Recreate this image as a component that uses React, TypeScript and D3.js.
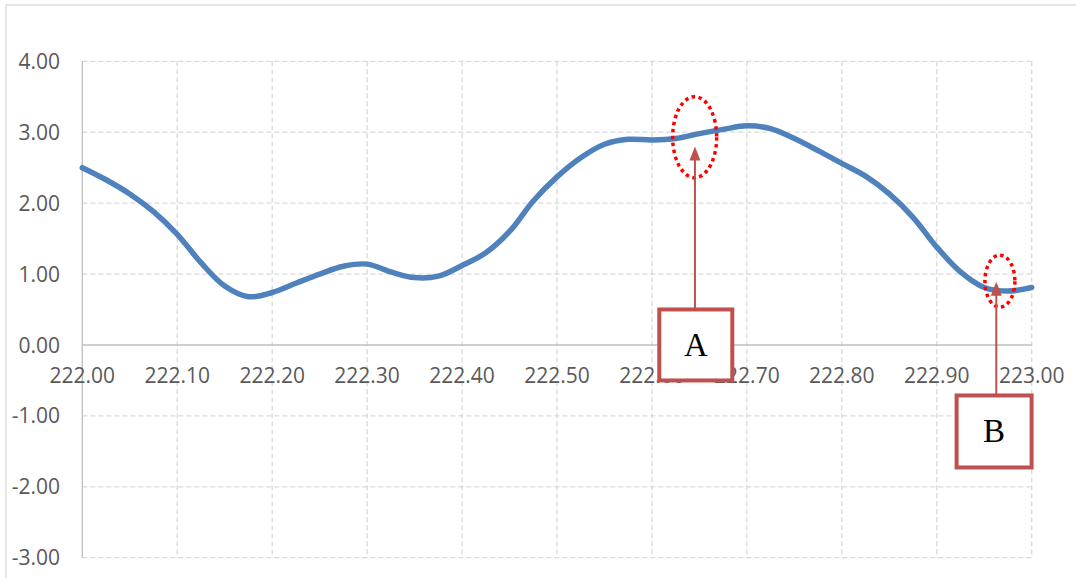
import React from "react";
import * as d3 from "d3";

// Station (x) and measured value (y) along the profile
const stations: number[] = [
  222.0, 222.025, 222.05, 222.075, 222.1, 222.125, 222.15, 222.175, 222.2, 222.225,
  222.25, 222.275, 222.3, 222.325, 222.35, 222.375, 222.4, 222.425, 222.45, 222.475,
  222.5, 222.525, 222.55, 222.575, 222.6, 222.625, 222.65, 222.675, 222.7, 222.725,
  222.75, 222.775, 222.8, 222.825, 222.85, 222.875, 222.9, 222.925, 222.95, 222.975, 223.0,
];
const values: number[] = [
  2.5, 2.33, 2.13, 1.88, 1.56, 1.16, 0.83, 0.68, 0.74, 0.87,
  1.0, 1.11, 1.14, 1.03, 0.95, 0.97, 1.12, 1.3, 1.6, 2.03,
  2.37, 2.64, 2.83, 2.9, 2.89, 2.91, 2.98, 3.04, 3.09, 3.05,
  2.91, 2.74, 2.56, 2.38, 2.13, 1.8, 1.38, 1.03, 0.81, 0.76, 0.81,
];

const xTicks: number[] = [222.0, 222.1, 222.2, 222.3, 222.4, 222.5, 222.6, 222.7, 222.8, 222.9, 223.0];
const yTicks: number[] = [4, 3, 2, 1, 0, -1, -2, -3];

// Callouts: label box, arrow and dotted ellipse around the marked spot
const callouts = [
  { label: "A", cx: 222.645, cy: 2.93, rx: 22, ry: 40.5, arrowX: 222.6453, tipY: 2.8, boxX: 222.6462, boxY: 0.0, boxW: 73, boxH: 71 },
  { label: "B", cx: 222.9665, cy: 0.9, rx: 15, ry: 26, arrowX: 222.9627, tipY: 0.89, boxX: 222.9604, boxY: -1.22, boxW: 75, boxH: 72 },
];

const W = 1076;
const H = 578;

export default function App() {
  const x = d3.scaleLinear().domain([222, 223]).range([82.3, 1031.7]);
  const y = d3.scaleLinear().domain([-3, 4]).range([557.7, 61.3]);

  const pts: [number, number][] = stations.map((s, i) => [s, values[i]]);
  const line = d3
    .line<[number, number]>()
    .x((d) => x(d[0]))
    .y((d) => y(d[1]))
    .curve(d3.curveCatmullRom.alpha(0.5));

  const grid = "#d9d9d9";
  const axis = "#bfbfbf";
  const labelFont = "'Open Sans', Lato, sans-serif";

  return (
    <svg
      width={W}
      height={H}
      viewBox={`0 0 ${W} ${H}`}
      style={{ position: "absolute", left: 0, top: 0, background: "#fff" }}
    >
      <rect x={0} y={0} width={W} height={H} fill="#fff" />
      {/* chart frame */}
      <rect x={6} y={5} width={W + 20} height={H + 20} fill="none" stroke={grid} strokeWidth={1.3} />

      {/* horizontal gridlines */}
      {yTicks
        .filter((t) => t !== 0)
        .map((t) => (
          <line
            key={`gy${t}`}
            x1={x(222)}
            x2={x(223)}
            y1={y(t)}
            y2={y(t)}
            stroke={grid}
            strokeWidth={1.3}
            strokeDasharray="5 3"
          />
        ))}
      {/* vertical gridlines */}
      {xTicks
        .filter((t) => t !== 222)
        .map((t) => (
          <line
            key={`gx${t}`}
            x1={x(t)}
            x2={x(t)}
            y1={y(4)}
            y2={y(-3)}
            stroke={grid}
            strokeWidth={1.3}
            strokeDasharray="5 3"
          />
        ))}

      {/* axes */}
      <line x1={x(222)} x2={x(222)} y1={y(4)} y2={y(-3)} stroke={axis} strokeWidth={1.3} />
      <line x1={x(222)} x2={x(223)} y1={y(0)} y2={y(0)} stroke={axis} strokeWidth={1.5} />

      {/* y tick labels */}
      {yTicks.map((t) => (
        <text
          key={`ly${t}`}
          x={60}
          y={y(t)}
          dy="0.36em"
          textAnchor="end"
          fontFamily={labelFont}
          fontSize={21}
          fill="#595959"
        >
          {t.toFixed(2)}
        </text>
      ))}
      {/* x tick labels */}
      {xTicks.map((t) => (
        <text
          key={`lx${t}`}
          x={x(t)}
          y={383}
          textAnchor="middle"
          fontFamily={labelFont}
          fontSize={21}
          fill="#595959"
        >
          {t.toFixed(2)}
        </text>
      ))}

      {/* profile curve */}
      <path
        d={line(pts) || ""}
        fill="none"
        stroke="#4f81bd"
        strokeWidth={5.5}
        strokeLinecap="round"
        strokeLinejoin="round"
      />

      {/* callouts */}
      {callouts.map((c) => {
        const ax = x(c.arrowX);
        const tip = y(c.tipY);
        const bx = x(c.boxX);
        const by = y(c.boxY);
        const boxTop = by - c.boxH / 2;
        return (
          <g key={c.label}>
            <ellipse
              cx={x(c.cx)}
              cy={y(c.cy)}
              rx={c.rx}
              ry={c.ry}
              fill="none"
              stroke="#ff0000"
              strokeWidth={3.5}
              strokeDasharray="3.5 3.5"
            />
            <line x1={ax} x2={ax} y1={boxTop} y2={tip + 12} stroke="#c0504d" strokeWidth={2} />
            <path
              d={`M${ax},${tip} L${ax - 5.5},${tip + 14} L${ax + 5.5},${tip + 14} Z`}
              fill="#c0504d"
            />
            <rect
              x={bx - c.boxW / 2}
              y={boxTop}
              width={c.boxW}
              height={c.boxH}
              fill="#fff"
              stroke="#c0504d"
              strokeWidth={4}
            />
            <text
              x={bx}
              y={by + 11}
              textAnchor="middle"
              fontFamily="'Liberation Serif', 'Times New Roman', serif"
              fontSize={33}
              fill="#000"
            >
              {c.label}
            </text>
          </g>
        );
      })}
    </svg>
  );
}
